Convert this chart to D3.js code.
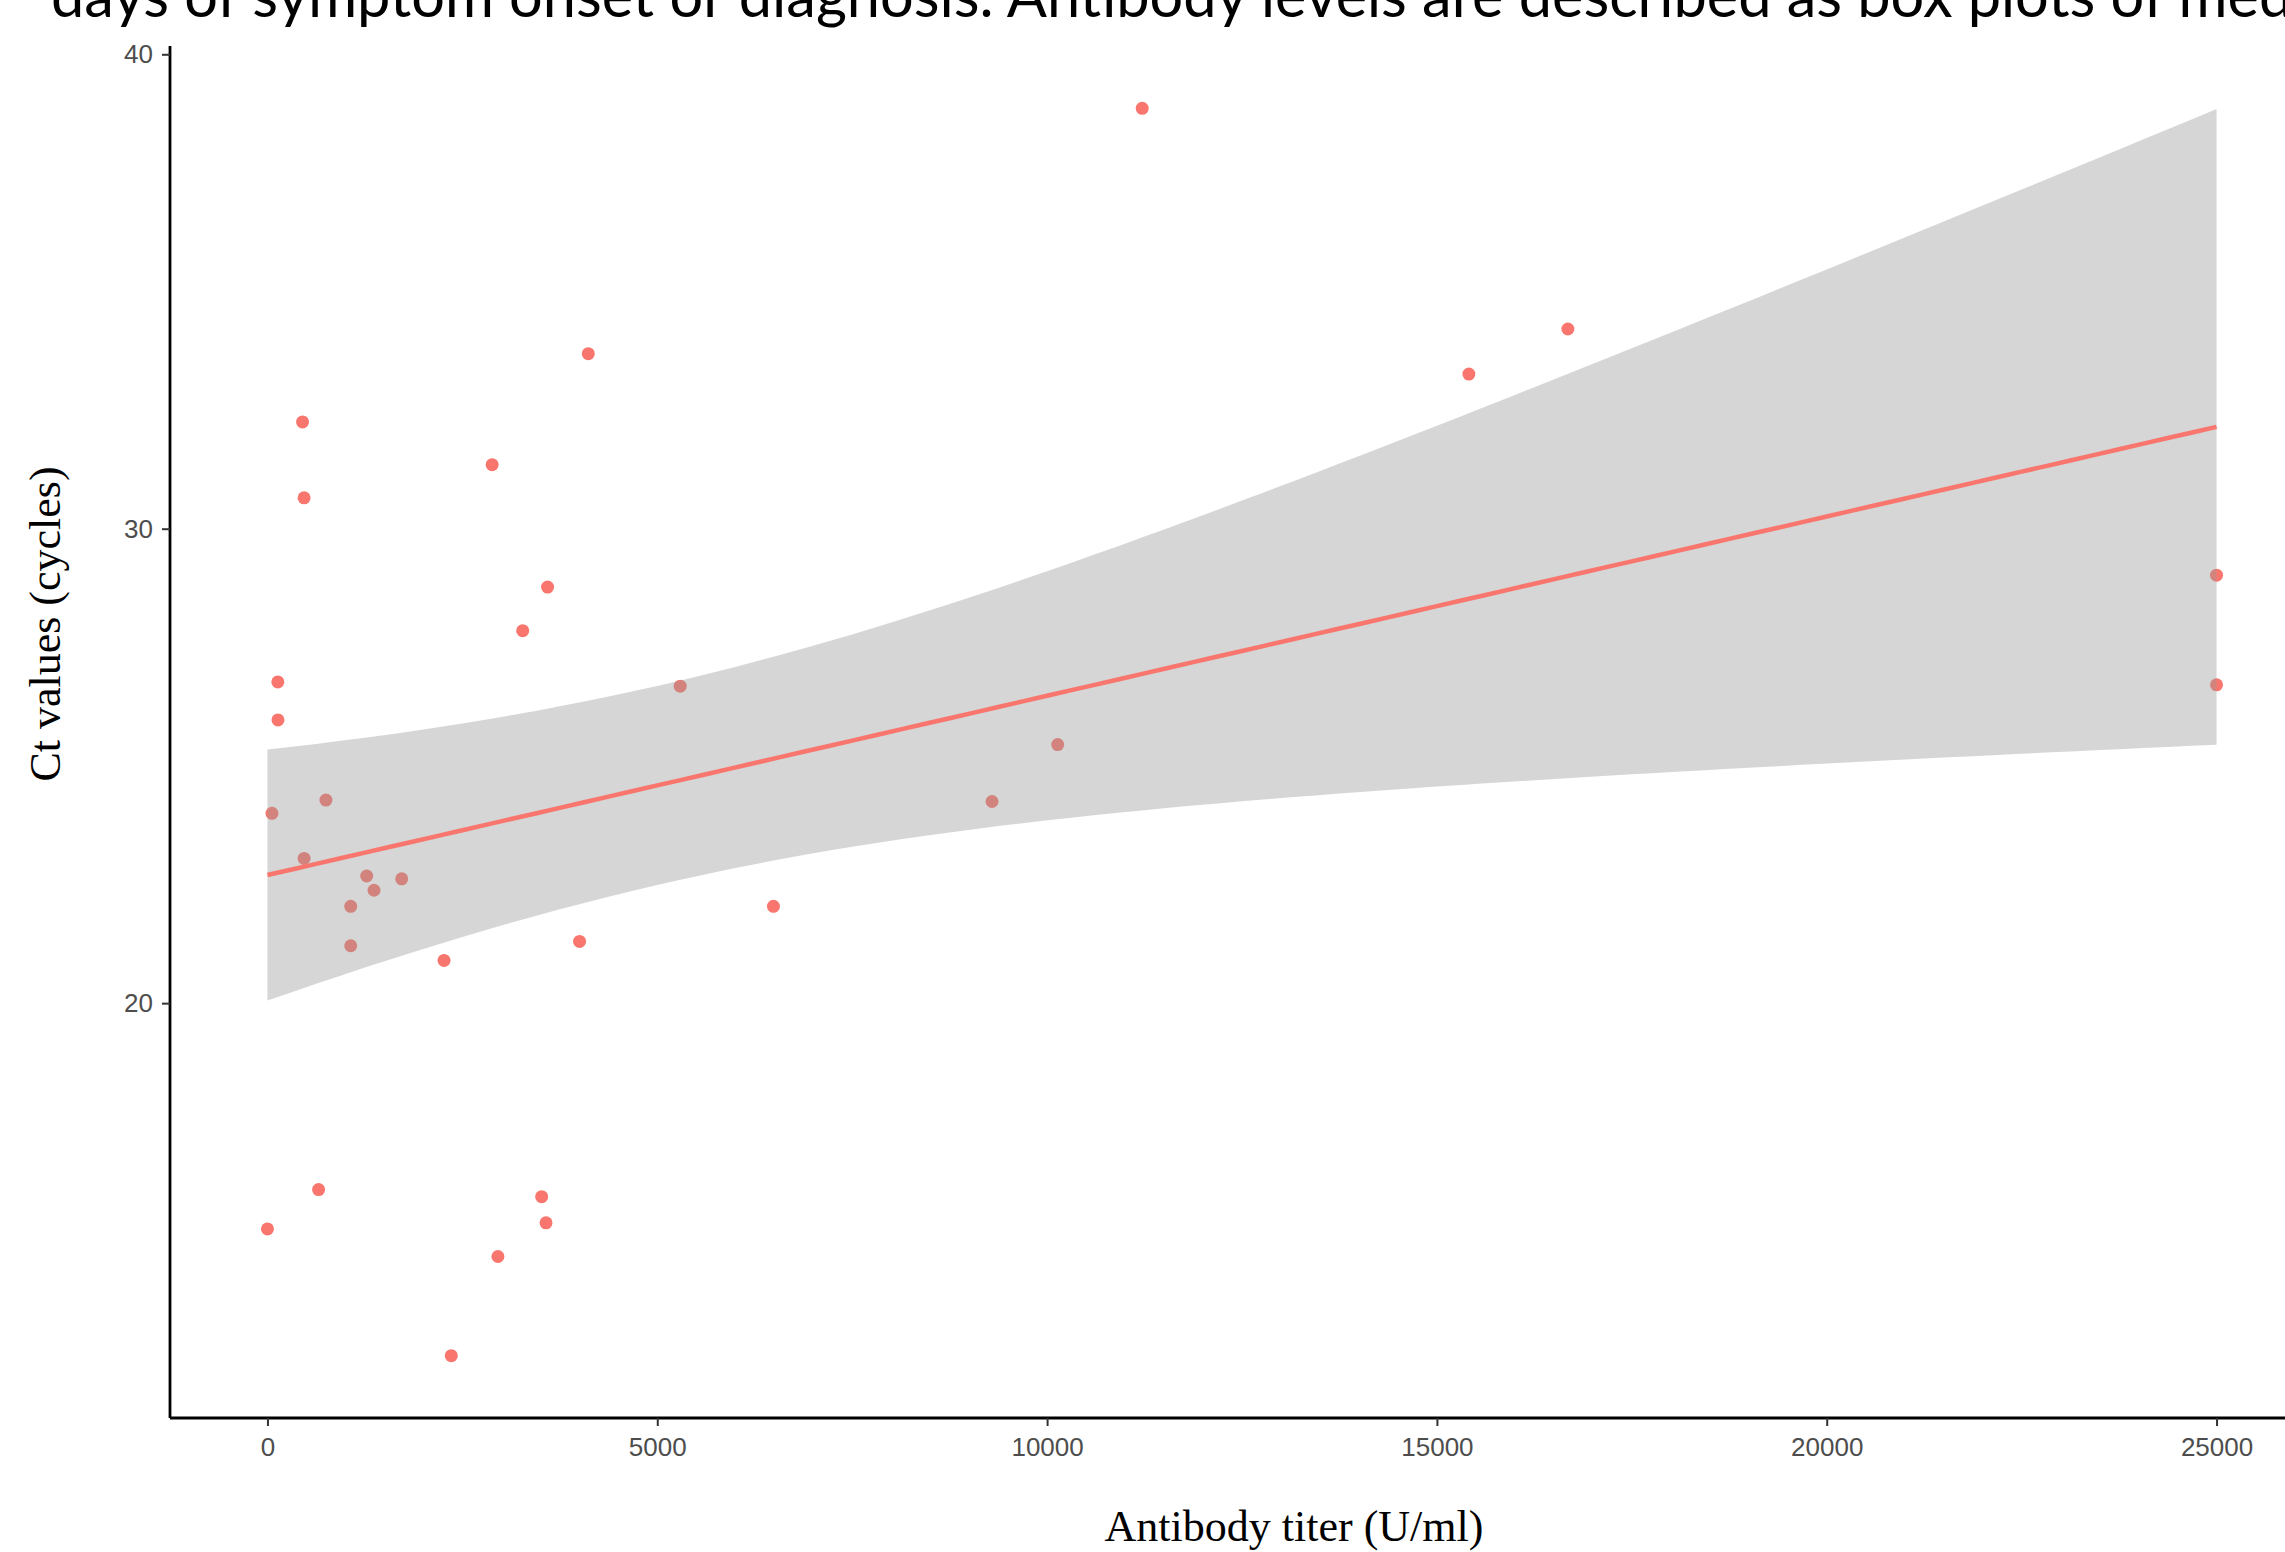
<!DOCTYPE html>
<html>
<head>
<meta charset="utf-8">
<script src="https://cdn.jsdelivr.net/npm/d3@7"></script>
<style>
    html, body { margin: 0; padding: 0; background: #ffffff; }
    svg { display: block; }
</style>
</head>
<body>
<div id="chart"></div>
<script>
// antibody titer (U/ml) vs Ct value (cycles)
var titer = [0, 58, 133, 135, 450, 470, 470, 656, 750, 1068, 1068, 1273, 1367, 1722, 2265,
    2358, 2882, 2956, 3274, 3517, 3593, 3573, 4003, 4115, 5294, 6490, 9294, 10136, 11220,
    15410, 16680, 25000, 25000];
var ct_values = [15.24, 24.0, 26.77, 25.97, 32.25, 30.65, 23.05, 16.07, 24.28, 22.04, 21.21,
    22.68, 22.38, 22.62, 20.90, 12.57, 31.35, 14.66, 27.85, 15.92, 28.77, 15.37, 21.30, 33.69,
    26.68, 22.04, 24.25, 25.45, 38.86, 33.26, 34.21, 29.02, 26.71];
var x_ticks = [0, 5000, 10000, 15000, 20000, 25000];
var y_ticks = [20, 30, 40];
var caption = 'days of symptom onset or diagnosis. Antibody levels are described as box plots of median';

var width = 2285, height = 1552;
var point_color = '#F8766D';

var svg = d3.select('#chart').append('svg')
    .attr('width', width)
    .attr('height', height);

// ggplot style 5% expansion around the data range
function expand(extent){
    var pad = (extent[1] - extent[0]) * 0.05;
    return [extent[0] - pad, extent[1] + pad];
}

var x = d3.scaleLinear()
    .domain(expand(d3.extent(titer)))
    .range([170, 2314]);

var y = d3.scaleLinear()
    .domain(expand(d3.extent(ct_values)))
    .range([1418, 46]);

// linear model with 95% confidence band, as geom_smooth(method = "lm")
var n = titer.length;
var x_mean = d3.mean(titer), y_mean = d3.mean(ct_values);
var sxx = d3.sum(titer, function(d){ return (d - x_mean) * (d - x_mean); });
var sxy = d3.sum(titer, function(d, i){ return (d - x_mean) * (ct_values[i] - y_mean); });
var slope = sxy / sxx;
var intercept = y_mean - slope * x_mean;
var sse = d3.sum(titer, function(d, i){
    var r = ct_values[i] - (intercept + slope * d);
    return r * r;
});
var sigma = Math.sqrt(sse / (n - 2));
var t_crit = 2.0395; // qt(0.975, 31)

var x_range = d3.extent(titer);
var fit = d3.range(0, 81).map(function(i){
    var xv = x_range[0] + (x_range[1] - x_range[0]) * i / 80;
    var yv = intercept + slope * xv;
    var se = sigma * Math.sqrt(1 / n + (xv - x_mean) * (xv - x_mean) / sxx);
    return {x: xv, y: yv, lo: yv - t_crit * se, hi: yv + t_crit * se};
});

// points first, the band is laid over them
svg.append('g').selectAll('circle')
    .data(titer)
    .enter().append('circle')
    .attr('cx', function(d){ return x(d); })
    .attr('cy', function(d, i){ return y(ct_values[i]); })
    .attr('r', 6.5)
    .attr('fill', point_color);

svg.append('path')
    .datum(fit)
    .attr('d', d3.area()
        .x(function(d){ return x(d.x); })
        .y0(function(d){ return y(d.lo); })
        .y1(function(d){ return y(d.hi); }))
    .attr('fill', '#999999')
    .attr('fill-opacity', 0.4);

svg.append('path')
    .datum(fit)
    .attr('d', d3.line()
        .x(function(d){ return x(d.x); })
        .y(function(d){ return y(d.y); }))
    .attr('fill', 'none')
    .attr('stroke', point_color)
    .attr('stroke-width', 4.5);

// axes
var x_axis = svg.append('g')
    .attr('transform', 'translate(0,1418)')
    .call(d3.axisBottom(x).tickValues(x_ticks).tickFormat(d3.format('d'))
        .tickSize(8).tickPadding(12));

var y_axis = svg.append('g')
    .attr('transform', 'translate(170,0)')
    .call(d3.axisLeft(y).tickValues(y_ticks).tickSize(8).tickPadding(9));

[x_axis, y_axis].forEach(function(axis){
    axis.select('.domain')
        .attr('stroke', '#000000')
        .attr('stroke-width', 2.8);
    axis.selectAll('.tick line')
        .attr('stroke', '#333333')
        .attr('stroke-width', 2);
    axis.selectAll('.tick text')
        .attr('fill', '#4D4D4D')
        .attr('font-family', 'Liberation Sans, Arial, sans-serif')
        .attr('font-size', '26px');
});

// x axis line runs on past the right edge of the picture
x_axis.select('.domain').attr('d', 'M170,0H' + width);
y_axis.select('.domain').attr('d', 'M0,46V1418');

// axis titles
svg.append('text')
    .attr('x', 1294)
    .attr('y', 1541)
    .attr('text-anchor', 'middle')
    .attr('font-family', 'Liberation Serif, Times New Roman, serif')
    .attr('font-size', '44px')
    .attr('fill', '#000000')
    .text('Antibody titer (U/ml)');

svg.append('text')
    .attr('transform', 'translate(60,624) rotate(-90)')
    .attr('text-anchor', 'middle')
    .attr('font-family', 'Liberation Serif, Times New Roman, serif')
    .attr('font-size', '44px')
    .attr('fill', '#000000')
    .text('Ct values (cycles)');

// cut-off line of document text above the figure
var caption_el = svg.append('text')
    .attr('x', 51)
    .attr('y', 17)
    .attr('font-family', 'Lato, Open Sans, sans-serif')
    .attr('font-size', '54px')
    .attr('fill', '#000000')
    .text(caption);

var probe = svg.append('text')
    .attr('font-family', 'Lato, Open Sans, sans-serif')
    .attr('font-size', '54px')
    .text(caption.slice(0, caption.indexOf('median') + 2));
var probe_width = probe.node().getComputedTextLength();
probe.remove();
caption_el.attr('font-size', (54 * 2208 / probe_width).toFixed(2) + 'px');
</script>
</body>
</html>
